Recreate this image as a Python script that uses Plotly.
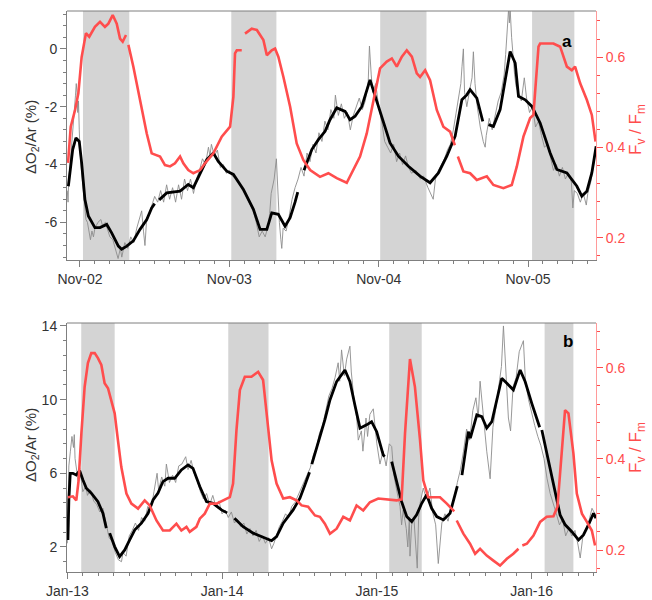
import plotly.graph_objects as go

# ---------------- Panel a (Nov) ----------------
a_dark_start = [2.02, 3.013, 4.01, 5.027]
a_dark_end = [2.33, 3.315, 4.32, 5.31]

a_fvfm_day = [1.920, 1.938, 1.967, 1.989, 2.011, 2.040, 2.062, 2.100, 2.134, 2.167, 2.190, 2.219,
              2.246, 2.268, 2.286, 2.308, None, 2.324, 2.357, 2.402, 2.447, 2.480, 2.509, 2.536,
              2.569, 2.603, 2.636, 2.670, 2.692, 2.725, 2.759, 2.804, 2.837, 2.893, 2.949, 2.983,
              3.005, 3.027, 3.038, 3.050, 3.083, None, 3.105, 3.150, 3.184, 3.228, 3.251, 3.284,
              3.306, 3.328, 3.362, 3.407, 3.451, 3.496, 3.541, 3.607, 3.663, 3.719, 3.786, 3.831,
              3.875, 3.920, 3.964, 4.009, 4.054, 4.088, 4.121, 4.155, 4.188, 4.222, 4.255, 4.277,
              4.311, 4.344, 4.389, 4.433, 4.478, 4.510, None, 4.530, 4.567, 4.612, 4.657, 4.724,
              4.768, 4.835, 4.891, 4.925, 4.969, 5.014, 5.036, 5.070, 5.081, 5.170, 5.215, 5.260,
              5.293, 5.315, 5.349, 5.394, 5.427, 5.452]
a_fvfm = [0.366, 0.446, 0.483, 0.520, 0.600, 0.653, 0.645, 0.667, 0.678, 0.667, 0.674, 0.693,
          0.674, 0.641, 0.634, 0.649, None, 0.627, 0.579, 0.505, 0.431, 0.387, 0.383, 0.380,
          0.361, 0.358, 0.365, 0.380, 0.365, 0.350, 0.343, 0.350, 0.365, 0.387, 0.424, 0.439,
          0.446, 0.512, 0.608, 0.615, 0.615, None, 0.652, 0.663, 0.660, 0.638, 0.604, 0.615,
          0.619, 0.601, 0.556, 0.490, 0.409, 0.372, 0.350, 0.335, 0.343, 0.332, 0.322, 0.350,
          0.380, 0.431, 0.505, 0.575, 0.590, 0.597, 0.579, 0.601, 0.615, 0.601, 0.564, 0.556,
          0.571, 0.549, 0.483, 0.446, 0.435, 0.405, None, 0.380, 0.347, 0.343, 0.328, 0.336,
          0.317, 0.310, 0.317, 0.358, 0.424, 0.465, 0.472, 0.623, 0.630, 0.630, 0.623, 0.579,
          0.571, 0.579, 0.542, 0.505, 0.472, 0.413]

a_o2_day = [1.922, 1.933, 1.951, 1.973, 1.995, 2.011, 2.033, 2.056, 2.100, 2.134, 2.179, 2.212,
            2.257, 2.279, 2.313, 2.357, 2.402, 2.447, 2.480, 2.500, None, 2.530, 2.581, 2.670, 2.725,
            2.759, 2.804, 2.849, 2.893, 2.926, 2.983, 3.027, 3.094, 3.161, 3.206, 3.251, 3.284,
            3.328, 3.373, 3.407, 3.440, 3.458, None, 3.500, 3.552, 3.596, 3.641, 3.674, 3.719,
            3.775, 3.808, 3.842, 3.887, 3.942, 3.976, 4.021, 4.076, 4.132, 4.199, 4.277, 4.344,
            4.400, 4.456, 4.512, 4.557, 4.590, 4.612, 4.657, 4.697, None, 4.735, 4.768, 4.813,
            4.847, 4.880, 4.914, 4.936, 4.981, 5.026, 5.081, 5.148, 5.193, 5.260, 5.327, 5.360,
            5.394, 5.427, 5.456]
a_o2 = [-4.75, -4.17, -3.48, -3.08, -3.20, -3.94, -5.21, -5.78, -6.18, -6.18, -6.07, -6.36,
        -6.82, -6.93, -6.82, -6.64, -6.24, -5.90, -5.50, -5.35, None, -5.22, -4.98, -4.92, -4.69,
        -4.80, -4.34, -3.83, -3.60, -3.89, -4.23, -4.34, -4.86, -5.55, -6.24, -6.24, -5.67,
        -5.72, -6.13, -5.84, -5.30, -4.95, None, -4.20, -3.48, -3.14, -2.85, -2.45, -2.04,
        -2.16, -2.45, -2.33, -1.99, -1.07, -1.64, -2.33, -3.25, -3.71, -4.06, -4.40, -4.63,
        -4.29, -3.71, -3.02, -1.76, -1.59, -1.41, -1.70, -2.51, None, -2.62, -2.68, -2.10,
        -1.07, -0.09, -0.49, -1.64, -1.76, -1.99, -2.56, -3.60, -4.17, -4.29, -4.75, -5.09,
        -4.92, -4.29, -3.37]

a_raw_day = [1.915, 1.920, 1.925, 1.930, 1.940, 1.950, 1.960, 1.970, 1.975, 1.980, 1.985, 1.990,
             1.995, 2.000, 2.010, 2.020, 2.030, 2.040, 2.050, 2.060, 2.070, 2.080, 2.090, 2.100,
             2.120, 2.140, 2.150, 2.170, 2.190, 2.200, 2.220, 2.240, 2.255, 2.270, 2.280, 2.300,
             2.320, 2.340, 2.360, 2.380, 2.390, 2.413, 2.425, 2.435, 2.445, 2.470, 2.490, 2.500,
             2.520, 2.540, 2.560, 2.580, 2.600, 2.620, 2.640, 2.660, 2.680, 2.700, 2.720, 2.740,
             2.760, 2.780, 2.800, 2.820, 2.840, 2.860, 2.870, 2.880, 2.900, 2.920, 2.940, 2.960,
             2.980, 3.000, 3.020, 3.050, 3.080, 3.100, 3.130, 3.160, 3.180, 3.200, 3.220, 3.240,
             3.260, 3.270, 3.280, 3.300, 3.315, 3.325, 3.335, 3.345, 3.351, 3.360, 3.380, 3.400,
             3.420, 3.440, 3.460, 3.480, 3.500, 3.520, 3.540, 3.560, 3.580, 3.600, 3.620, 3.640,
             3.660, 3.680, 3.700, 3.710, 3.730, 3.750, 3.770, 3.790, 3.810, 3.830, 3.850, 3.870,
             3.890, 3.910, 3.930, 3.938, 3.950, 3.960, 3.980, 4.000, 4.020, 4.040, 4.060, 4.080,
             4.100, 4.120, 4.140, 4.160, 4.180, 4.200, 4.220, 4.250, 4.280, 4.300, 4.330, 4.350,
             4.365, 4.380, 4.400, 4.420, 4.440, 4.460, 4.480, 4.500, 4.520, 4.540, 4.550, 4.558,
             4.567, 4.575, 4.590, 4.610, 4.625, 4.634, 4.645, 4.660, 4.680, 4.700, 4.713, 4.720,
             4.740, 4.760, 4.780, 4.800, 4.820, 4.840, 4.850, 4.860, 4.870, 4.875, 4.880, 4.890,
             4.900, 4.910, 4.920, 4.940, 4.955, 4.975, 4.990, 5.010, 5.030, 5.050, 5.070, 5.090,
             5.110, 5.130, 5.150, 5.170, 5.190, 5.210, 5.230, 5.250, 5.270, 5.290, 5.300, 5.310,
             5.330, 5.350, 5.370, 5.390, 5.400, 5.420, 5.440, 5.456]
a_raw = [-4.9, -5.3, -4.4, -4.2, -3.6, -3.0, -2.4, -1.6, -1.2, -1.5, -2.2, -1.8,
         -2.8, -3.5, -4.2, -4.8, -5.5, -5.9, -6.0, -6.4, -6.6, -6.3, -6.5, -6.2,
         -6.0, -5.9, -6.1, -6.0, -6.3, -6.5, -6.6, -7.0, -7.25, -6.9, -7.2, -6.7,
         -6.9, -6.5, -6.7, -6.2, -6.0, -5.6, -6.3, -6.8, -6.0, -5.6, -5.3, -5.1,
         -5.3, -4.9, -5.3, -4.7, -5.2, -4.8, -5.3, -4.7, -5.2, -4.5, -4.9, -4.5,
         -5.0, -4.5, -4.2, -3.8, -4.0, -3.4, -3.7, -3.3, -3.7, -3.5, -4.1, -4.0,
         -4.3, -4.2, -4.4, -4.5, -4.8, -5.0, -5.3, -5.6, -6.0, -6.5, -6.3, -6.5,
         -6.1, -5.7, -5.0, -4.5, -3.8, -5.0, -6.0, -6.6, -6.9, -6.2, -6.3, -5.8,
         -5.2, -4.8, -4.5, -4.1, -4.4, -3.6, -3.9, -3.3, -3.6, -2.9, -3.2, -2.5,
         -2.8, -2.1, -2.4, -1.6, -2.3, -1.9, -2.4, -2.2, -2.8, -2.3, -2.0, -1.7,
         -2.1, -1.8, -1.1, 0.1, -0.9, -1.5, -1.2, -2.0, -2.5, -3.2, -3.4, -3.6,
         -3.3, -3.9, -3.6, -4.0, -3.7, -4.1, -4.3, -4.2, -4.5, -4.4, -4.8, -5.0,
         -5.2, -4.5, -4.2, -4.0, -3.8, -3.5, -3.3, -2.8, -2.2, -1.6, -1.2, -0.6,
         0.0, -1.5, -2.0, -1.4, -1.0, -0.1, -1.2, -2.0, -2.7, -3.2, -3.4, -3.0,
         -2.4, -2.8, -2.3, -1.8, -1.5, -0.9, -0.2, 0.8, 1.4, 0.9, 1.4, 0.4,
         -0.3, -0.9, -1.3, -1.6, -1.8, -1.0, -1.7, -2.2, -2.0, -2.7, -2.5, -3.0,
         -3.4, -3.3, -3.8, -4.2, -4.0, -4.4, -4.1, -4.5, -4.3, -4.6, -5.5, -4.9,
         -5.0, -5.3, -5.0, -5.4, -5.0, -4.6, -4.0, -3.4]

# ---------------- Panel b (Jan) ----------------
b_dark_start = [13.09, 14.04, 15.08, 16.084]
b_dark_end = [13.306, 14.30, 15.29, 16.27]

b_fvfm_day = [13.004, 13.036, 13.058, 13.073, 13.091, 13.112, 13.133, 13.155, 13.177, 13.198, 13.220,
              13.241, 13.263, 13.285, 13.306, 13.327, 13.349, 13.382, 13.414, 13.457, 13.500, 13.532,
              13.576, 13.618, 13.662, 13.705, 13.737, 13.770, 13.791, 13.834, 13.856, 13.888, 13.921,
              13.964, 14.006, 14.050, 14.071, 14.093, 14.115, 14.147, 14.190, 14.233, 14.265, 14.287,
              14.320, 14.352, 14.395, 14.438, 14.481, 14.514, 14.556, 14.600, 14.632, 14.664, 14.697,
              14.740, 14.783, 14.826, 14.869, 14.912, 14.955, 15.009, 15.063, 15.096, 15.128, 15.160,
              15.182, 15.214, 15.246, 15.279, 15.300, 15.332, 15.376, 15.408, 15.452, 15.500, None,
              15.516, 15.559, 15.602, 15.635, 15.667, 15.710, 15.753, 15.796, 15.840, 15.882, 15.915,
              None, 15.940, 15.969, 16.012, 16.055, 16.098, 16.141, 16.167, 16.195, 16.216, 16.238,
              16.270, 16.292, 16.325, 16.357, 16.389, 16.410]
b_fvfm = [0.316, 0.318, 0.309, 0.353, 0.456, 0.558, 0.610, 0.632, 0.632, 0.621, 0.606,
          0.566, 0.555, 0.529, 0.500, 0.441, 0.382, 0.324, 0.302, 0.291, 0.309, 0.298,
          0.265, 0.243, 0.243, 0.258, 0.243, 0.251, 0.240, 0.251, 0.269, 0.280, 0.302,
          0.302, 0.309, 0.316, 0.346, 0.463, 0.551, 0.580, 0.580, 0.591, 0.573, 0.507,
          0.397, 0.346, 0.313, 0.316, 0.309, 0.298, 0.295, 0.276, 0.273, 0.258, 0.236,
          0.247, 0.273, 0.265, 0.298, 0.287, 0.305, 0.313, 0.311, 0.309, 0.309, 0.311,
          0.456, 0.619, 0.558, 0.441, 0.353, 0.316, 0.316, 0.316, 0.302, 0.285, None,
          0.265, 0.236, 0.214, 0.192, 0.203, 0.188, 0.177, 0.166, 0.181, 0.192, 0.203,
          None, 0.210, 0.214, 0.232, 0.262, 0.273, 0.274, 0.295, 0.412, 0.507, 0.500,
          0.412, 0.324, 0.280, 0.262, 0.243, 0.210]

b_o2_day = [13.004, 13.010, 13.019, 13.036, 13.058, 13.080, 13.101, 13.123, 13.155, 13.198, 13.230,
            13.252, None, 13.274, 13.306, 13.338, 13.371, 13.403, 13.436, 13.479, 13.522, 13.554,
            13.586, 13.618, 13.651, 13.694, 13.737, 13.780, 13.812, 13.856, 13.899, 13.942, 13.996,
            14.033, None, 14.080, 14.136, 14.201, 14.276, 14.320, 14.352, 14.395, 14.459, 14.503,
            14.535, 14.565, None, 14.580, 14.621, 14.664, 14.697, 14.740, 14.794, 14.826, 14.858,
            14.891, 14.934, 14.966, 14.999, 15.041, 15.050, None, 15.096, 15.128, 15.160, 15.193,
            15.225, 15.257, 15.290, 15.322, 15.354, 15.387, 15.430, 15.473, 15.505, 15.520, None,
            15.550, 15.591, 15.604, 15.646, 15.678, 15.710, 15.743, 15.775, 15.807, 15.840, 15.882,
            15.926, 15.958, 16.001, 16.034, 16.052, None, 16.066, 16.109, 16.152, 16.184, 16.217,
            16.260, 16.303, 16.335, 16.367, 16.400, 16.415]
b_o2 = [2.38, 4.55, 6.00, 6.00, 5.91, 6.14, 5.64, 5.19, 4.92, 4.46, 3.83,
        3.02, None, 2.75, 2.02, 1.48, 1.84, 2.38, 2.93, 3.29, 3.83, 4.55,
        4.92, 5.55, 5.73, 5.73, 6.18, 6.45, 6.27, 5.28, 4.46, 4.37, 4.01,
        3.85, None, 3.56, 3.10, 2.75, 2.47, 2.34, 2.56, 3.29, 4.01, 4.65,
        5.37, 6.05, None, 6.50, 7.63, 8.90, 9.98, 10.98, 11.61, 10.98, 9.71,
        8.45, 8.63, 8.80, 8.26, 7.00, 6.90, None, 6.63, 5.55, 4.46, 3.65,
        3.38, 3.74, 4.37, 4.83, 4.10, 3.65, 3.47, 3.83, 4.83, 5.30, None,
        5.90, 8.26, 7.91, 9.17, 9.08, 8.45, 8.80, 10.07, 11.16, 10.89, 10.53,
        11.61, 10.98, 9.80, 8.99, 8.50, None, 8.35, 6.63, 4.83, 3.74, 3.20,
        2.83, 2.38, 2.65, 3.20, 3.83, 3.56]

b_raw_day = [13.000, 13.005, 13.010, 13.020, 13.030, 13.040, 13.045, 13.050, 13.060, 13.070, 13.080,
             13.090, 13.100, 13.120, 13.130, 13.150, 13.170, 13.190, 13.210, 13.230, 13.250, 13.270,
             13.290, 13.310, 13.330, 13.350, 13.360, 13.380, 13.400, 13.420, 13.440, 13.460, 13.480,
             13.500, 13.520, 13.540, 13.560, 13.580, 13.590, 13.610, 13.630, 13.640, 13.660, 13.680,
             13.700, 13.720, 13.740, 13.765, 13.780, 13.800, 13.820, 13.840, 13.860, 13.880, 13.900,
             13.920, 13.940, 13.960, 13.980, 14.000, 14.020, 14.040, 14.060, 14.080, 14.100, 14.120,
             14.140, 14.160, 14.180, 14.200, 14.220, 14.240, 14.260, 14.280, 14.300, 14.320, 14.335,
             14.350, 14.370, 14.390, 14.410, 14.430, 14.450, 14.470, 14.490, 14.510, 14.530, 14.550,
             14.570, 14.590, 14.610, 14.630, 14.650, 14.670, 14.690, 14.710, 14.730, 14.750, 14.760,
             14.772, 14.790, 14.805, 14.826, 14.835, 14.850, 14.870, 14.880, 14.900, 14.910, 14.930,
             14.940, 14.955, 14.977, 14.990, 15.000, 15.020, 15.040, 15.060, 15.080, 15.096, 15.110,
             15.130, 15.150, 15.160, 15.170, 15.190, 15.200, 15.210, 15.214, 15.225, 15.240, 15.261,
             15.270, 15.280, 15.300, 15.320, 15.343, 15.360, 15.380, 15.397, 15.410, 15.420, 15.440,
             15.460, 15.480, 15.500, 15.520, 15.540, 15.560, 15.580, 15.600, 15.620, 15.640, 15.655,
             15.667, 15.690, 15.710, 15.732, 15.750, 15.770, 15.790, 15.805, 15.818, 15.835, 15.850,
             15.864, 15.880, 15.900, 15.920, 15.947, 15.960, 15.980, 16.000, 16.020, 16.040, 16.060,
             16.080, 16.100, 16.120, 16.140, 16.160, 16.180, 16.200, 16.220, 16.240, 16.260, 16.280,
             16.300, 16.314, 16.330, 16.350, 16.370, 16.390, 16.415]
b_raw = [2.2, 4.8, 6.4, 7.2, 8.0, 7.4, 8.1, 6.8, 6.2, 5.6, 6.3,
         5.6, 5.0, 5.3, 4.8, 5.1, 4.5, 4.3, 3.9, 4.1, 3.3, 2.5,
         2.3, 1.7, 1.3, 1.2, 1.7, 1.5, 2.6, 2.9, 3.3, 2.9, 3.6,
         3.4, 4.2, 4.0, 5.0, 6.0, 5.1, 5.8, 5.3, 6.5, 5.5, 5.9,
         5.5, 6.4, 6.5, 6.9, 6.2, 6.7, 6.0, 5.6, 5.0, 4.6, 4.9,
         4.3, 4.8, 4.2, 4.5, 3.8, 4.0, 3.6, 3.9, 3.3, 3.5, 3.1,
         3.3, 2.7, 3.0, 2.6, 2.9, 2.3, 2.6, 2.2, 2.5, 1.9, 2.2,
         2.6, 3.1, 3.4, 3.8, 3.6, 4.2, 4.4, 4.8, 5.1, 5.6, 6.0,
         6.3, 7.0, 7.4, 8.2, 8.6, 9.4, 10.2, 10.6, 11.2, 12.0, 11.0,
         12.7, 11.3, 12.2, 12.9, 11.5, 10.2, 9.0, 7.8, 8.3, 7.2, 9.0,
         8.0, 9.2, 9.5, 8.4, 7.6, 6.5, 7.2, 6.4, 7.6, 7.45, 5.9,
         5.0, 4.2, 3.2, 4.0, 3.0, 2.0, 3.6, 1.5, 3.2, 3.5, 0.85,
         3.6, 4.4, 5.2, 4.6, 5.2, 3.9, 3.2, 1.1, 2.6, 3.3, 3.8,
         3.4, 4.2, 4.6, 5.5, 6.2, 7.2, 8.4, 7.8, 9.4, 10.1, 9.0,
         11.0, 8.9, 7.2, 5.7, 8.5, 9.6, 10.8, 11.8, 14.0, 11.5, 9.0,
         8.3, 10.7, 11.2, 12.6, 13.2, 11.0, 10.0, 9.2, 8.6, 8.0, 7.5,
         6.8, 5.7, 4.9, 4.4, 3.8, 3.2, 3.5, 2.6, 3.0, 2.6, 2.9,
         2.1, 1.4, 2.5, 2.9, 3.4, 4.1, 3.7]

y_left_title = "ΔO<sub>2</sub>/Ar (%)"
y_right_title = "F<sub>v</sub> / F<sub>m</sub>"

# ---------------- Styling constants ----------------
RED = "#ff4d4d"
RED_AXIS = "#ff9a9a"
AX = "#7f7f7f"
TXT = "#333333"
FONT = "Liberation Sans, Arial, sans-serif"

fig = go.Figure()

fig.add_trace(go.Scatter(x=a_raw_day, y=a_raw, mode="lines", line=dict(color="#8c8c8c", width=0.9),
                         xaxis="x", yaxis="y", showlegend=False, hoverinfo="skip"))
fig.add_trace(go.Scatter(x=a_o2_day, y=a_o2, mode="lines", line=dict(color="black", width=2.8),
                         connectgaps=False, xaxis="x", yaxis="y", showlegend=False))
fig.add_trace(go.Scatter(x=a_fvfm_day, y=a_fvfm, mode="lines", line=dict(color=RED, width=2.6),
                         connectgaps=False, xaxis="x", yaxis="y2", showlegend=False))
fig.add_trace(go.Scatter(x=b_raw_day, y=b_raw, mode="lines", line=dict(color="#8c8c8c", width=0.9),
                         xaxis="x2", yaxis="y3", showlegend=False, hoverinfo="skip"))
fig.add_trace(go.Scatter(x=b_o2_day, y=b_o2, mode="lines", line=dict(color="black", width=2.8),
                         connectgaps=False, xaxis="x2", yaxis="y3", showlegend=False))
fig.add_trace(go.Scatter(x=b_fvfm_day, y=b_fvfm, mode="lines", line=dict(color=RED, width=2.6),
                         connectgaps=False, xaxis="x2", yaxis="y4", showlegend=False))

shapes = []
for s, e in zip(a_dark_start, a_dark_end):
    shapes.append(dict(type="rect", xref="x", yref="y domain", x0=s, x1=e, y0=0, y1=1,
                       fillcolor="#d4d4d4", line=dict(width=0), layer="below"))
for s, e in zip(b_dark_start, b_dark_end):
    shapes.append(dict(type="rect", xref="x2", yref="y3 domain", x0=s, x1=e, y0=0, y1=1,
                       fillcolor="#d4d4d4", line=dict(width=0), layer="below"))

W, H = 652, 600
xdom = [67 / W, 596 / W]
dom_a = [1 - 260 / H, 1 - 11 / H]
dom_b = [1 - 572 / H, 1 - 323 / H]

tickfont = dict(family=FONT, size=14, color=TXT)
redfont = dict(family=FONT, size=14, color=RED)


def xaxis_cfg(dom_anchor, rng, vals, texts):
    return dict(domain=xdom, anchor=dom_anchor, range=rng, showgrid=False, zeroline=False,
                automargin=False, showline=True, linecolor=AX, linewidth=1, mirror=False,
                ticks="outside", ticklen=6, tickcolor=AX, tickmode="array",
                tickvals=vals, ticktext=texts, tickfont=tickfont,
                minor=dict(ticks="outside", ticklen=3, tickcolor=AX, dtick=0.1, tick0=0,
                           showgrid=False))


def left_cfg(dom, anchor, rng, vals, mdt, mt0):
    return dict(domain=dom, anchor=anchor, range=rng, showgrid=False, zeroline=False,
                automargin=False, showline=True, linecolor=AX, linewidth=1,
                ticks="outside", ticklen=6, tickcolor=AX, tickmode="array",
                tickvals=vals, ticktext=[str(v) for v in vals],
                tickfont=tickfont,
                minor=dict(ticks="outside", ticklen=3, tickcolor=AX, dtick=mdt, tick0=mt0,
                           showgrid=False))


def right_cfg(over, anchor, rng):
    return dict(overlaying=over, anchor=anchor, side="right", range=rng, showgrid=False,
                zeroline=False, automargin=False, showline=True, linecolor=RED_AXIS, linewidth=1,
                ticks="outside", ticklen=6, tickcolor=RED, tickmode="array",
                tickvals=[0.2, 0.4, 0.6], ticktext=["0.2", "0.4", "0.6"], tickfont=redfont,
                minor=dict(ticks="outside", ticklen=3, tickcolor=RED, dtick=0.04, tick0=0,
                           showgrid=False))


shapes.append(dict(type="line", xref="paper", yref="paper", x0=xdom[0], x1=xdom[1],
                   y0=dom_a[1], y1=dom_a[1], line=dict(color=AX, width=1)))
shapes.append(dict(type="line", xref="paper", yref="paper", x0=xdom[0], x1=xdom[1],
                   y0=dom_b[1], y1=dom_b[1], line=dict(color=AX, width=1)))

ltitle_font = dict(family=FONT, size=15, color=TXT)
rtitle_font = dict(family=FONT, size=17, color=RED)
annotations = [
    dict(text="<b>a</b>", xref="paper", yref="paper", x=574 / W, y=1 - 30 / H,
         showarrow=False, font=dict(family=FONT, size=17, color="black")),
    dict(text="<b>b</b>", xref="paper", yref="paper", x=575 / W, y=1 - 341 / H,
         showarrow=False, font=dict(family=FONT, size=17, color="black")),
    dict(text=y_left_title, xref="paper", yref="paper", x=32 / W, y=1 - 137 / H, textangle=-90,
         xanchor="center", yanchor="middle", showarrow=False, font=ltitle_font),
    dict(text=y_left_title, xref="paper", yref="paper", x=31 / W, y=1 - 445 / H, textangle=-90,
         xanchor="center", yanchor="middle", showarrow=False, font=ltitle_font),
    dict(text=y_right_title, xref="paper", yref="paper", x=637 / W, y=1 - 130 / H, textangle=-90,
         xanchor="center", yanchor="middle", showarrow=False, font=rtitle_font),
    dict(text=y_right_title, xref="paper", yref="paper", x=637 / W, y=1 - 448 / H, textangle=-90,
         xanchor="center", yanchor="middle", showarrow=False, font=rtitle_font),
]

fig.update_layout(
    width=W, height=H,
    margin=dict(l=0, r=0, t=0, b=0, autoexpand=False),
    paper_bgcolor="white", plot_bgcolor="white",
    font=dict(family=FONT, color=TXT),
    xaxis=xaxis_cfg("y", [1.913, 5.455], [2, 3, 4, 5], ["Nov-02", "Nov-03", "Nov-04", "Nov-05"]),
    xaxis2=xaxis_cfg("y3", [12.998, 16.416], [13, 14, 15, 16], ["Jan-13", "Jan-14", "Jan-15", "Jan-16"]),
    yaxis=left_cfg(dom_a, "x", [-7.3, 1.31], [-6, -4, -2, 0], 0.4, 0),
    yaxis2=right_cfg("y", "x", [0.151, 0.702]),
    yaxis3=left_cfg(dom_b, "x2", [0.64, 14.16], [2, 6, 10, 14], 0.8, 2),
    yaxis4=right_cfg("y3", "x2", [0.152, 0.698]),
    shapes=shapes,
    annotations=annotations,
)

fig.write_html("out.html")
